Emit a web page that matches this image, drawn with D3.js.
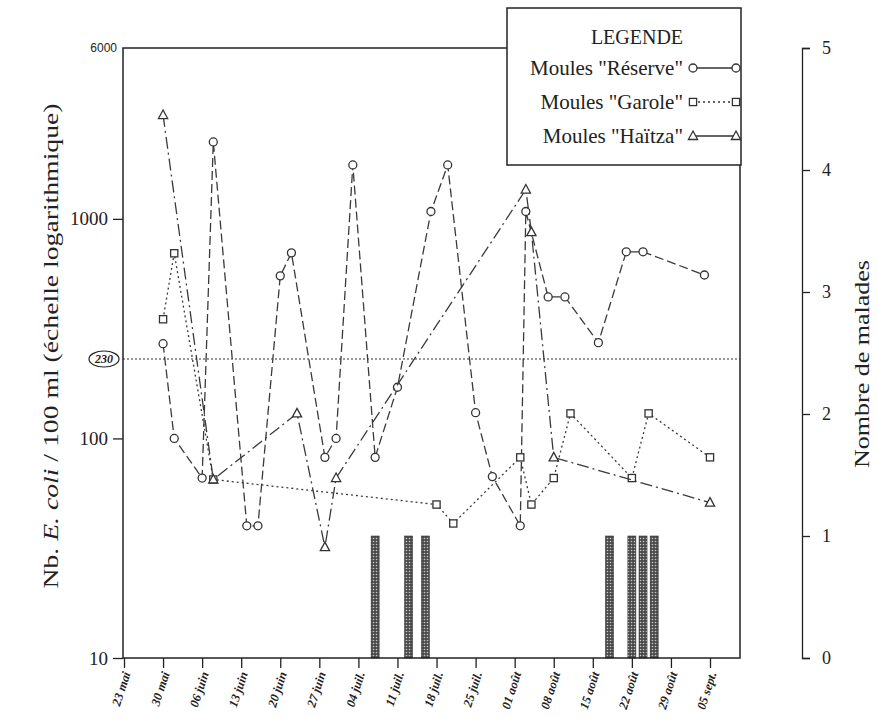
<!DOCTYPE html>
<html>
<head>
<meta charset="utf-8">
<script src="https://cdn.jsdelivr.net/npm/d3@7"></script>
<style>
body { margin: 0; background: #fff; }
text { font-family: "Liberation Serif", "Times New Roman", serif; fill: #222; }
</style>
</head>
<body>
<div id="chart"></div>
<script>
// ---- data ----
const tickDates = ["23/05","30/05","06/06","13/06","20/06","27/06","04/07","11/07",
                   "18/07","25/07","01/08","08/08","15/08","22/08","29/08","05/09"];
const tickLabels = ["23 mai","30 mai","06 juin","13 juin","20 juin","27 juin","04 juil.","11 juil.",
                    "18 juil.","25 juil.","01 août","08 août","15 août","22 août","29 août","05 sept."];

const reserveDates  = ["30/05","01/06","06/06","08/06","14/06","16/06","20/06","22/06","28/06","30/06",
                       "03/07","07/07","11/07","17/07","20/07","25/07","28/07","02/08","03/08","07/08",
                       "10/08","16/08","21/08","24/08","04/09"];
const reserveValues = [270, 100, 66, 2240, 40, 40, 550, 700, 82, 100,
                       1760, 82, 171, 1080, 1760, 131, 67, 40, 1080, 441,
                       441, 273, 708, 708, 555];

const garoleDates  = ["30/05","01/06","08/06","18/07","21/07","02/08","04/08","08/08","11/08","22/08","25/08","05/09"];
const garoleValues = [349, 697, 65, 50, 41, 82, 50, 66, 130, 66, 130, 82];

const haitzaDates  = ["30/05","08/06","23/06","28/06","30/06","03/08","04/08","08/08","05/09"];
const haitzaValues = [2970, 65, 130, 32, 66, 1360, 870, 82, 51];

const maladesDates  = ["07/07","13/07","16/07","18/08","22/08","24/08","26/08"];
const maladesCounts = [1, 1, 1, 1, 1, 1, 1];

const seuil = 230;
const leftTicks = [10, 100, 1000];
const topLabel = 6000;

// ---- layout ----
const svgwidth = 877, svgheight = 719;
const plot = { left: 123, top: 48, right: 740, bottom: 658 };

const parse = d3.timeParse("%d/%m");

const svg = d3.select("#chart").append("svg")
    .attr("width", svgwidth).attr("height", svgheight);

// scales
const x = d3.scaleTime()
    .domain([parse("23/05"), parse("05/09")])
    .range([124, 710]);
const y = d3.scaleLog().domain([10, 6000]).range([plot.bottom, plot.top]);
const yN = d3.scaleLinear().domain([0, 5]).range([plot.bottom, plot.top]);

// stipple pattern for the bars
const defs = svg.append("defs");
const pat = defs.append("pattern").attr("id", "stip")
    .attr("width", 3).attr("height", 3).attr("patternUnits", "userSpaceOnUse");
pat.append("rect").attr("width", 3).attr("height", 3).attr("fill", "#4a4a4a");
pat.append("circle").attr("cx", 1.5).attr("cy", 1.5).attr("r", 0.8).attr("fill", "#c8c8c8");

// bars (nombre de malades)
const bars = maladesDates.map((d, i) => ({ date: parse(d), n: maladesCounts[i] }));
svg.append("g").selectAll("rect").data(bars).enter().append("rect")
    .attr("x", d => x(d.date) - 4)
    .attr("y", d => yN(d.n))
    .attr("width", 8)
    .attr("height", d => yN(0) - yN(d.n))
    .attr("fill", "url(#stip)")
    .attr("stroke", "#333").attr("stroke-width", 0.6);

// threshold line 230
svg.append("line")
    .attr("x1", plot.left).attr("x2", plot.right)
    .attr("y1", y(seuil)).attr("y2", y(seuil))
    .attr("stroke", "#333").attr("stroke-width", 1.2).attr("stroke-dasharray", "2,2");

// series
const series = [
    { name: 'Moules "Réserve"', dates: reserveDates, values: reserveValues, dash: "9,4", marker: "circle" },
    { name: 'Moules "Garole"',  dates: garoleDates,  values: garoleValues,  dash: "2,3", marker: "square" },
    { name: 'Moules "Haïtza"',  dates: haitzaDates,  values: haitzaValues,  dash: "12,4,2,4", marker: "triangle" }
];

const line = d3.line().x(d => x(d.date)).y(d => y(d.v));

function drawMarker(g, type, cx, cy) {
    if (type === "circle") {
        g.append("circle").attr("cx", cx).attr("cy", cy).attr("r", 4)
            .attr("fill", "#fff").attr("stroke", "#333").attr("stroke-width", 1.3);
    } else if (type === "square") {
        g.append("rect").attr("x", cx - 3.6).attr("y", cy - 3.6).attr("width", 7.2).attr("height", 7.2)
            .attr("fill", "#fff").attr("stroke", "#333").attr("stroke-width", 1.3);
    } else {
        g.append("path").attr("d", `M${cx},${cy - 5}L${cx + 4.6},${cy + 3.5}L${cx - 4.6},${cy + 3.5}Z`)
            .attr("fill", "#fff").attr("stroke", "#333").attr("stroke-width", 1.3);
    }
}

series.forEach(s => {
    const pts = s.dates.map((d, i) => ({ date: parse(d), v: s.values[i] }));
    svg.append("path").datum(pts)
        .attr("d", line)
        .attr("fill", "none").attr("stroke", "#3a3a3a")
        .attr("stroke-width", 1.3).attr("stroke-dasharray", s.dash);
    const mg = svg.append("g");
    pts.forEach(p => drawMarker(mg, s.marker, x(p.date), y(p.v)));
});

// frame
svg.append("rect")
    .attr("x", plot.left).attr("y", plot.top)
    .attr("width", plot.right - plot.left).attr("height", plot.bottom - plot.top)
    .attr("fill", "none").attr("stroke", "#222").attr("stroke-width", 1.5);

// x axis
const xAxis = d3.axisBottom(x)
    .tickValues(tickDates.map(parse))
    .tickSize(10).tickSizeOuter(0)
    .tickFormat((d, i) => tickLabels[i]);
const gx = svg.append("g").attr("transform", `translate(0,${plot.bottom})`).call(xAxis);
gx.select(".domain").remove();
gx.selectAll("line").attr("stroke", "#222").attr("stroke-width", 1.3);
gx.selectAll("text")
    .attr("x", 0).attr("y", 0).attr("dy", "0.35em")
    .attr("transform", "translate(2,14) rotate(-72)")
    .style("text-anchor", "end")
    .style("font-size", "12.5px").style("font-style", "italic").style("font-weight", "bold")
    .style("font-family", '"Liberation Serif", serif').attr("fill", "#222");

// left axis
const yAxis = d3.axisLeft(y).tickValues(leftTicks).tickSize(10).tickSizeOuter(0)
    .tickFormat(d3.format("d")).tickPadding(5);
const gy = svg.append("g").attr("transform", `translate(${plot.left},0)`).call(yAxis);
gy.select(".domain").remove();
gy.selectAll("line").attr("stroke", "#222").attr("stroke-width", 1.3);
gy.selectAll("text").style("font-size", "19px").style("font-family", '"Liberation Serif", serif').attr("fill", "#222");

svg.append("text")
    .attr("x", 117).attr("y", y(topLabel)).attr("dy", "0.35em")
    .attr("text-anchor", "end")
    .style("font-family", '"Liberation Sans", Arial, sans-serif').style("font-size", "12px")
    .text(topLabel);

// 230 label in an ellipse
svg.append("ellipse")
    .attr("cx", 104).attr("cy", y(seuil)).attr("rx", 15).attr("ry", 8)
    .attr("fill", "#fff").attr("stroke", "#222").attr("stroke-width", 1.2);
svg.append("text")
    .attr("x", 104).attr("y", y(seuil)).attr("dy", "0.35em")
    .attr("text-anchor", "middle")
    .style("font-size", "12px").style("font-style", "italic").style("font-weight", "bold")
    .text(seuil);

// right axis
const yAxisR = d3.axisRight(yN).ticks(5).tickSize(8).tickSizeOuter(8).tickPadding(12)
    .tickFormat(d3.format("d"));
const gr = svg.append("g").attr("transform", "translate(802,0)").call(yAxisR);
gr.selectAll("path, line").attr("stroke", "#222").attr("stroke-width", 1.3);
gr.selectAll("text").style("font-size", "18px").style("font-family", '"Liberation Serif", serif').attr("fill", "#222");

// axis titles
const lt = svg.append("text")
    .attr("transform", "translate(58,346) rotate(-90)")
    .attr("text-anchor", "middle")
    .attr("textLength", 485).attr("lengthAdjust", "spacingAndGlyphs")
    .style("font-size", "21px");
lt.append("tspan").text("Nb. ");
lt.append("tspan").style("font-style", "italic").text("E. coli");
lt.append("tspan").text(" / 100 ml (échelle logarithmique)");

svg.append("text")
    .attr("transform", "translate(869,364) rotate(-90)")
    .attr("text-anchor", "middle")
    .attr("textLength", 208).attr("lengthAdjust", "spacingAndGlyphs")
    .style("font-size", "21px")
    .text("Nombre de malades");

// legend
const leg = svg.append("g");
leg.append("rect").attr("x", 507).attr("y", 8).attr("width", 234).attr("height", 157)
    .attr("fill", "#fff").attr("stroke", "#222").attr("stroke-width", 1.5);
leg.append("text").attr("x", 637).attr("y", 37).attr("dy", "0.35em")
    .attr("text-anchor", "middle").style("font-size", "20px").text("LEGENDE");
const legendDash = ["none", "2,3", "none"];
series.forEach((s, i) => {
    const ry = 68 + i * 34;
    leg.append("text").attr("x", 683).attr("y", ry).attr("dy", "0.35em")
        .attr("text-anchor", "end").style("font-size", "21px").text(s.name);
    leg.append("line").attr("x1", 693).attr("x2", 736).attr("y1", ry).attr("y2", ry)
        .attr("stroke", "#333").attr("stroke-width", 1.3).attr("stroke-dasharray", legendDash[i]);
    drawMarker(leg, s.marker, 693, ry);
    drawMarker(leg, s.marker, 736, ry);
});
</script>
</body>
</html>
